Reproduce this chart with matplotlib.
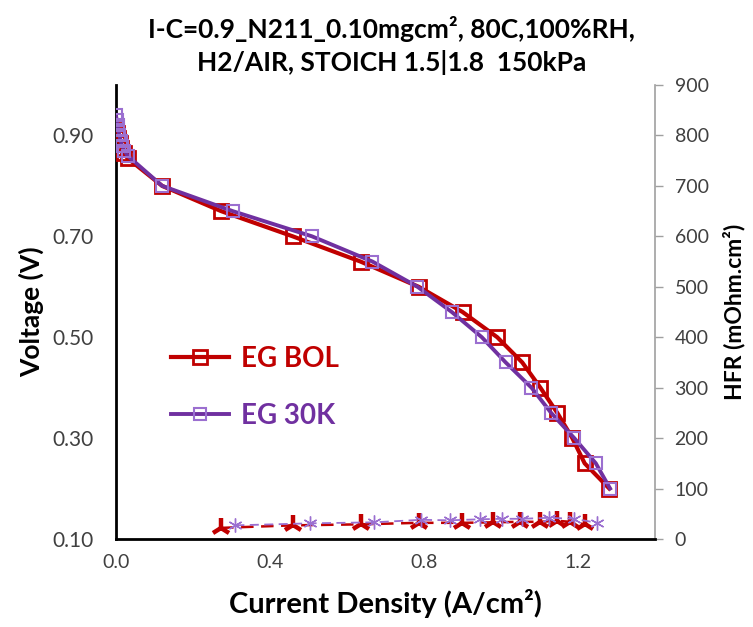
import matplotlib
matplotlib.use("Agg")
import matplotlib.pyplot as plt
from matplotlib.ticker import FormatStrFormatter, MultipleLocator

plt.rcParams['font.family'] = ['Lato', 'DejaVu Sans']

# Polarization data
bol_current = [0.000, 0.003, 0.006, 0.010, 0.014, 0.020, 0.030, 0.12, 0.273, 0.459, 0.635,
               0.786, 0.900, 0.990, 1.055, 1.102, 1.146, 1.185, 1.217, 1.281]
bol_voltage = [0.915, 0.905, 0.895, 0.885, 0.875, 0.865, 0.855, 0.80, 0.75, 0.70, 0.65,
               0.60, 0.55, 0.50, 0.45, 0.40, 0.35, 0.30, 0.25, 0.20]

k30_current = [0.000, 0.002, 0.004, 0.006, 0.009, 0.012, 0.016, 0.022, 0.030, 0.12, 0.303, 0.509, 0.666,
               0.783, 0.872, 0.950, 1.012, 1.079, 1.130, 1.190, 1.246, 1.283]
k30_voltage = [0.940, 0.930, 0.920, 0.910, 0.900, 0.890, 0.880, 0.870, 0.860, 0.80, 0.75, 0.70, 0.65,
               0.60, 0.55, 0.50, 0.45, 0.40, 0.35, 0.30, 0.25, 0.20]

# HFR data (mOhm.cm2)
bol_hfr_current = [0.273, 0.459, 0.635, 0.786, 0.898, 0.980, 1.050, 1.102, 1.146, 1.180, 1.217]
bol_hfr = [22, 27, 29, 32, 32, 33, 34, 34, 36, 34, 29]
k30_hfr_current = [0.310, 0.505, 0.670, 0.793, 0.867, 0.945, 1.003, 1.055, 1.125, 1.190, 1.250]
k30_hfr = [27, 31, 33, 38, 37, 39, 40, 40, 42, 40, 32]

red = '#C00000'
purple = '#7030A0'
lpurple = '#9B6FD0'

fig = plt.figure(figsize=(7.53, 6.27), dpi=100)
ax = fig.add_axes([0.154, 0.1404, 0.716, 0.724])
ax2 = ax.twinx()

l1, = ax.plot(bol_current, bol_voltage, color=red, lw=3.0, marker='s', ms=10,
              mfc='none', mec=red, mew=2.0, label='EG BOL', zorder=3)
l2, = ax.plot(k30_current, k30_voltage, color=purple, lw=2.8, marker='s', ms=9,
              mfc='none', mec=lpurple, mew=1.5, label='EG 30K', zorder=4)

ax2.plot(bol_hfr_current, bol_hfr, color=red, lw=1.8, ls=(0, (5, 3)), marker='2',
         ms=14, mew=3.2, mec=red)
ax2.plot(k30_hfr_current, k30_hfr, color=lpurple, lw=1.3, ls=(0, (5, 3)), marker=(6, 2, 0),
         ms=10, mew=1.0, mec=lpurple)

ax.set_xlim(0, 1.4)
ax.set_ylim(0.10, 1.0)
ax2.set_ylim(0, 900)

ax.xaxis.set_major_locator(MultipleLocator(0.4))
ax.xaxis.set_major_formatter(FormatStrFormatter('%.1f'))
ax.set_yticks([0.10, 0.30, 0.50, 0.70, 0.90])
ax.yaxis.set_major_formatter(FormatStrFormatter('%.2f'))
ax2.yaxis.set_major_locator(MultipleLocator(100))

tick_color = '#404040'
ax.tick_params(axis='x', length=0, labelsize=14, labelcolor=tick_color, pad=11)
ax.tick_params(axis='y', length=0, labelsize=15, labelcolor=tick_color, pad=16)
ax2.tick_params(axis='y', length=6, width=1, color='#A0A0A0', labelsize=14,
                labelcolor=tick_color, pad=8)

for s in ['top', 'right']:
    ax.spines[s].set_visible(False)
ax.spines['left'].set_linewidth(2.0)
ax.spines['bottom'].set_linewidth(2.0)
ax2.spines['top'].set_visible(False)
ax2.spines['left'].set_visible(False)
ax2.spines['bottom'].set_visible(False)
ax2.spines['right'].set_color('#A0A0A0')
ax2.spines['right'].set_linewidth(1.2)

ax.set_xlabel('Current Density (A/cm²)', fontsize=21, fontweight='bold', labelpad=13)
ax.set_ylabel('Voltage (V)', fontsize=19, fontweight='bold', labelpad=6)
ax2.set_ylabel('HFR (mOhm.cm²)', fontsize=16.5, fontweight='bold', labelpad=10)

fig.suptitle('I-C=0.9_N211_0.10mgcm², 80C,100%RH,\nH2/AIR, STOICH 1.5|1.8  150kPa',
             x=0.52, y=0.975, fontsize=19, fontweight='bold', linespacing=1.4)

leg = ax.legend(handles=[l1, l2], loc='upper left', bbox_to_anchor=(0.056, 0.48),
                frameon=False, handlelength=2.1, labelspacing=1.1,
                handletextpad=0.4, prop={'weight': 'bold', 'size': 20})
for t, c in zip(leg.get_texts(), [red, purple]):
    t.set_color(c)

ax.set_zorder(ax2.get_zorder() + 1)
ax.patch.set_visible(False)

fig.savefig('out.png', dpi=100)
